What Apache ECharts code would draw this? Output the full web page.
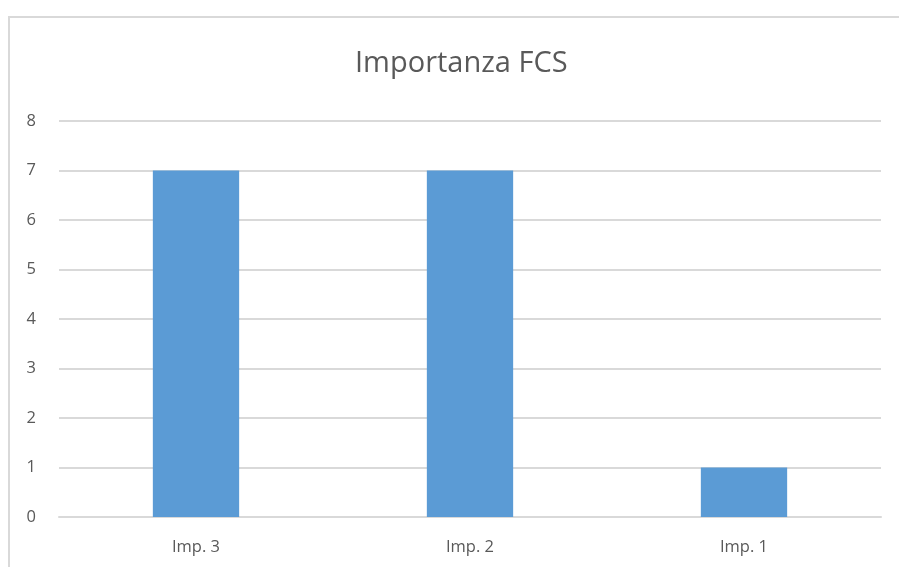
<!DOCTYPE html>
<html>
<head>
<meta charset="utf-8">
<script src="https://cdn.jsdelivr.net/npm/echarts@6/dist/echarts.min.js"></script>
<style>
  html, body { margin: 0; padding: 0; background: #fff; }
  #chart { width: 899px; height: 567px; }
</style>
</head>
<body>
<div id="chart"></div>
<script>
const categories = ['Imp. 3', 'Imp. 2', 'Imp. 1'];
const values = [7, 7, 1];
const yTicks = [0, 1, 2, 3, 4, 5, 6, 7, 8];

// grafico a barre
(function () {
  let mychart = echarts.init(document.getElementById('chart'))
  let option = {
    animation: false,
    textStyle: { fontFamily: 'Open Sans, Noto Sans, sans-serif' },
    graphic: [{
      type: 'rect',
      shape: { x: 9, y: 17, width: 1000, height: 700 },
      style: { fill: 'none', stroke: '#d9d9d9', lineWidth: 2 },
      silent: true
    }],
    title: {
      text: 'Importanza FCS',
      left: 350,
      top: 44,
      textStyle: { fontSize: 29, fontWeight: 'normal', color: '#595959' }
    },
    grid: { left: 59, right: 18, top: 121, bottom: 50 },
    xAxis: {
      type: 'category',
      data: categories,
      axisLine: { lineStyle: { color: '#d9d9d9', width: 2 } },
      axisTick: { show: false },
      axisLabel: { color: '#595959', fontSize: 16.5, margin: 22 }
    },
    yAxis: {
      type: 'value',
      min: yTicks[0],
      max: yTicks[yTicks.length - 1],
      interval: 1,
      axisLine: { show: false },
      axisTick: { show: false },
      axisLabel: { color: '#595959', fontSize: 16.5, margin: 23, align: 'right' },
      splitLine: { lineStyle: { color: '#d9d9d9', width: 2 } }
    },
    series: [{
      type: 'bar',
      data: values,
      barWidth: '31.5%',
      itemStyle: { color: '#5b9bd5' }
    }]
  }
  mychart.setOption(option)
})();
</script>
</body>
</html>
